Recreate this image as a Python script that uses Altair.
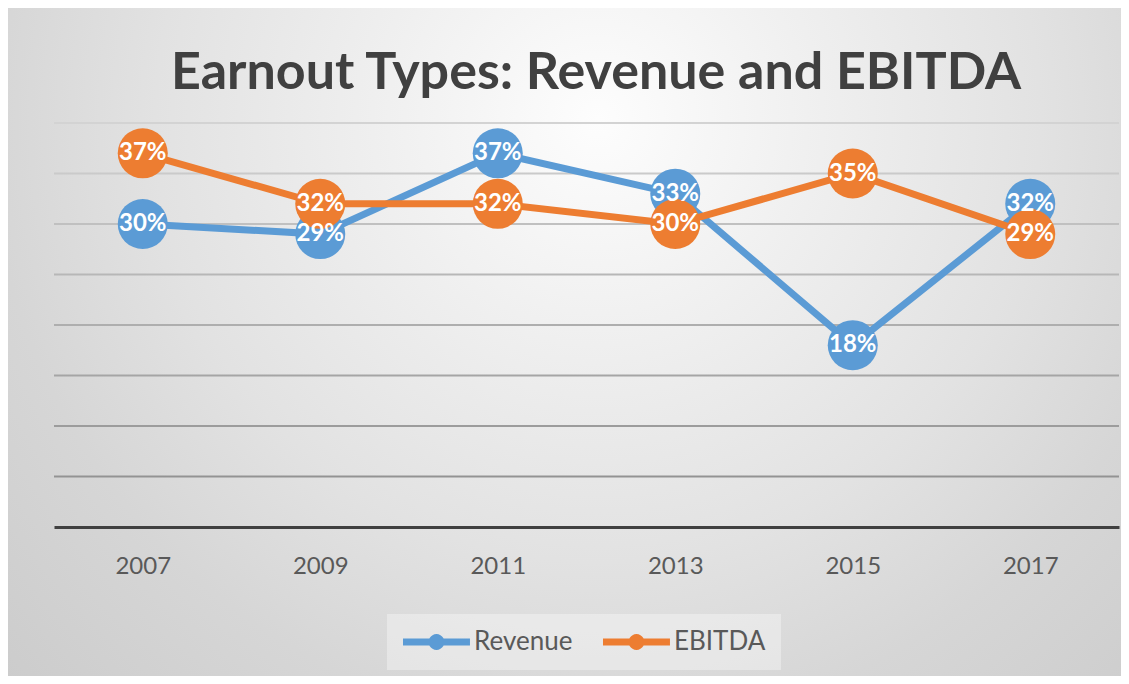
import math
import altair as alt
import pandas as pd

# ---- data ----
years = ["2007", "2009", "2011", "2013", "2015", "2017"]
revenue = [30, 29, 37, 33, 18, 32]
ebitda = [37, 32, 32, 30, 35, 29]
series = ["Revenue", "EBITDA"]
series_colors = ["#5B9BD5", "#ED7D31"]
grid_values = [5, 10, 15, 20, 25, 30, 35, 40]
title_text = "Earnout Types: Revenue and EBITDA"

rows = []
for s, vals in zip(series, [revenue, ebitda]):
    for yr, v in zip(years, vals):
        rows.append({"year": yr, "series": s, "value": v, "label": f"{v}%"})
df = pd.DataFrame(rows)

W, H = 1065, 404
PAD = {"left": 46, "top": 115, "right": 2, "bottom": 149}
FONT = "Lato"

yscale = alt.Scale(domain=[0, 40], nice=False, zero=True)
x_enc = alt.X(
    "year:N",
    sort=years,
    axis=alt.Axis(
        title=None, labelAngle=0, labelFont=FONT, labelFontSize=24,
        labelColor="#595959", labelPadding=27, ticks=False,
        domainColor="#404040", domainWidth=3, grid=False, zindex=1,
    ),
)
y_enc = alt.Y("value:Q", scale=yscale, axis=None)

# background (radial gradient, light near the title)
bg_gradient = {
    "gradient": "radial",
    "x1": 0.53, "y1": 0.30, "r1": 0,
    "x2": 0.53, "y2": 0.30, "r2": 0.75,
    "stops": [
        {"offset": 0, "color": "#fdfdfd"},
        {"offset": 0.27, "color": "#efefef"},
        {"offset": 0.53, "color": "#e2e2e2"},
        {"offset": 0.73, "color": "#d6d6d6"},
        {"offset": 1, "color": "#cbcbcb"},
    ],
}
bg = alt.Chart(pd.DataFrame({"k": [0]})).mark_rect(fill=bg_gradient).encode(
    x=alt.value(-PAD["left"]), x2=alt.value(W + PAD["right"]),
    y=alt.value(-PAD["top"]), y2=alt.value(H + PAD["bottom"]),
)

grid = alt.Chart(pd.DataFrame({"g": grid_values})).mark_rule(strokeWidth=2).encode(
    y=alt.Y("g:Q", scale=yscale, axis=None),
    color=alt.Color("g:Q", scale=alt.Scale(domain=[5, 40], range=["#939393", "#d3d3d3"]), legend=None),
)

base = alt.Chart(df)

line_layers = [
    base.transform_filter(alt.datum.series == s)
    .mark_line(strokeWidth=7, color=c)
    .encode(x=x_enc, y=y_enc)
    for s, c in zip(series, series_colors)
]

# legend glyph: a thick line with a dot in its middle (polygon only)
cx, cr = 1.79, 0.66
circle_pts = " ".join(
    f"L{cx + cr * math.cos(2 * math.pi * k / 24):.3f},{cr * math.sin(2 * math.pi * k / 24):.3f}"
    for k in range(1, 24)
)
legend_symbol = (
    "M-1,-0.29L4.58,-0.29L4.58,0.29L-1,0.29Z "
    f"M{cx + cr:.3f},0 {circle_pts} Z"
)

points = base.mark_point(filled=True, opacity=1, size=2500, strokeWidth=0).encode(
    x=x_enc,
    y=y_enc,
    fill=alt.Fill(
        "series:N",
        scale=alt.Scale(domain=series, range=series_colors),
        legend=alt.Legend(
            orient="none", legendX=333, legendY=491, direction="horizontal",
            title=None, symbolType=legend_symbol, symbolSize=576,
            symbolStrokeWidth=0, symbolOpacity=1,
            labelFont=FONT, labelFontSize=26, labelColor="#595959",
            labelOffset=46, columnPadding=29, padding=15,
            fillColor="rgba(255,255,255,0.35)", zindex=2,
        ),
    ),
)

labels = base.mark_text(
    color="white", fontWeight="bold", fontSize=24, font=FONT,
    align="center", baseline="middle",
).encode(x=x_enc, y=y_enc, text="label:N")

title = alt.Chart(pd.DataFrame({"t": [title_text]})).mark_text(
    font=FONT, fontSize=52, fontWeight="bold", color="#404040",
    align="center", baseline="alphabetic",
).encode(x=alt.value(542), y=alt.value(-34), text="t:N")

chart = alt.layer(bg, grid, *line_layers, points, labels, title).properties(
    width=W, height=H, padding=PAD, autosize=alt.AutoSizeParams(type="none"),
    background="#ffffff",
).configure_view(stroke=None)

chart.save("out.html", embed_options={"renderer": "svg", "actions": False})
